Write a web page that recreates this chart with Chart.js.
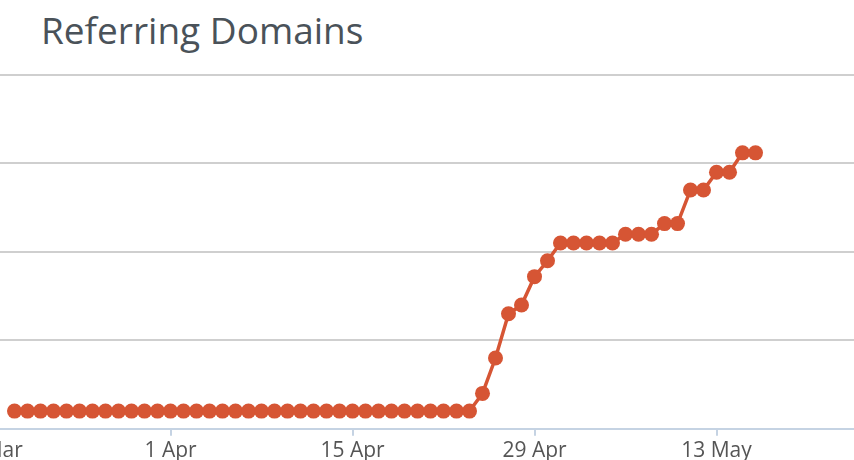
<!DOCTYPE html>
<html>
<head>
<meta charset="utf-8">
<script src="https://cdn.jsdelivr.net/npm/chart.js@4"></script>
<style>
  html, body { margin: 0; padding: 0; background: #fff; width: 854px; height: 460px; overflow: hidden; position: relative; }
  #title { position: absolute; left: 41px; top: 11px; font-family: "Open Sans"; font-size: 37px; line-height: 37px; color: #4a5259; white-space: nowrap; }
  /* chart is cropped on the left like the source screenshot */
  #wrap { position: absolute; left: -71px; top: 60px; width: 951px; height: 420px; }
</style>
</head>
<body>
<div id="title">Referring Domains</div>
<div id="wrap"><canvas id="domainsChart"></canvas></div>
<script>
// x = days since 20 Mar (first plotted day)
const domains = [
  10, 10, 10, 10, 10, 10, 10, 10, 10, 10, 10, 10,                          // 20-31 Mar
  10, 10, 10, 10, 10, 10, 10, 10, 10, 10, 10, 10,
  10, 10, 10, 10, 10, 10, 10, 10, 10, 10, 10, 10,                          // 1-24 Apr
  20, 40, 65, 70, 86, 95,                                                  // 25-30 Apr
  105, 105, 105, 105, 105, 110, 110, 110, 116, 116, 135, 135, 145, 145, 156, 156 // 1-16 May
];
const tickDays = [-2, 12, 26, 40, 54];
const tickLabels = ['18 Mar', '1 Apr', '15 Apr', '29 Apr', '13 May'];
const yMin = 0, yMax = 200, yStep = 50;

const lineColor = '#d65534';
const points = domains.map((v, i) => ({ x: i, y: v }));

Chart.defaults.font.family = 'Open Sans';

new Chart(document.getElementById('domainsChart'), {
  type: 'line',
  data: {
    datasets: [{
      label: 'Referring Domains',
      data: points,
      borderColor: lineColor,
      backgroundColor: lineColor,
      borderWidth: 3.5,
      pointRadius: 7.5,
      pointBorderWidth: 0,
      pointBackgroundColor: lineColor,
      tension: 0
    }]
  },
  options: {
    responsive: true,
    maintainAspectRatio: false,
    animation: false,
    layout: { padding: { top: 15, bottom: 13, left: 0, right: 0 } },
    plugins: { legend: { display: false }, tooltip: { enabled: false } },
    scales: {
      x: {
        type: 'linear',
        min: -6,
        max: 66,
        afterBuildTicks: (scale) => { scale.ticks = tickDays.map(v => ({ value: v })); },
        ticks: {
          autoSkip: false,
          maxRotation: 0,
          padding: 3,
          color: '#555',
          font: { size: 21 },
          callback: (v) => { const i = tickDays.indexOf(v); return i >= 0 ? tickLabels[i] : ''; }
        },
        grid: { drawOnChartArea: false, drawTicks: true, tickLength: 7, color: '#c5d3e3', lineWidth: 2 },
        border: { display: true, color: '#c5d3e3', width: 2 }
      },
      y: {
        min: yMin,
        max: yMax,
        ticks: { stepSize: yStep, display: false },
        grid: {
          drawTicks: false,
          lineWidth: 2,
          color: (ctx) => ctx.tick && ctx.tick.value === yMin ? 'rgba(0,0,0,0)' : '#cfcfcf'
        },
        border: { display: false }
      }
    }
  }
});
</script>
</body>
</html>
